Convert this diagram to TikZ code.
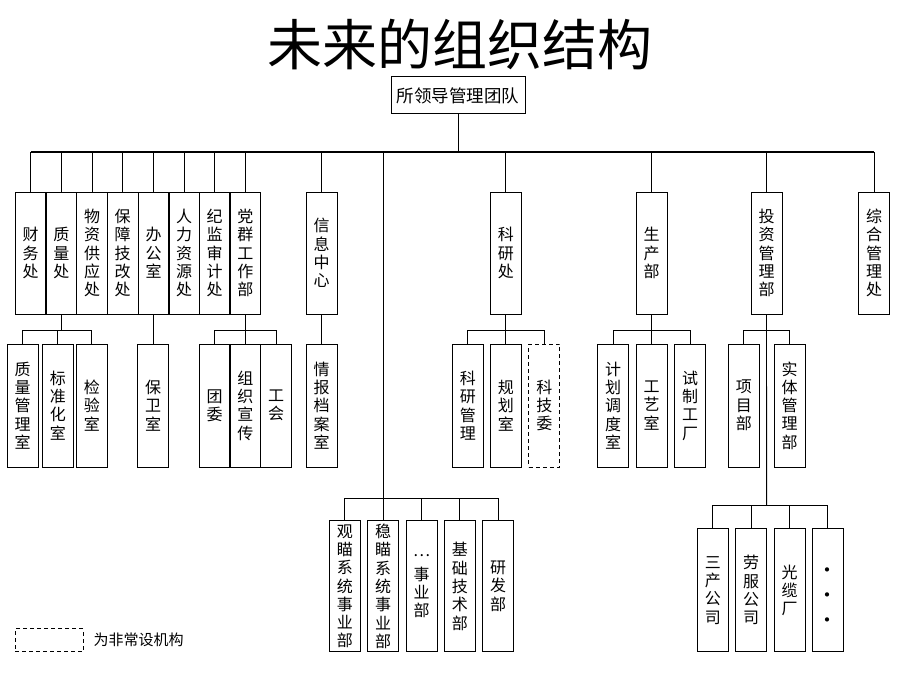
\documentclass[tikz,border=0pt]{standalone}
\usepackage{fontspec}
\setmainfont{Noto Sans CJK SC}
\begin{document}
\begin{tikzpicture}[x=1pt,y=-1pt,
  box/.style={draw, line width=1pt, minimum width=31pt, inner sep=0pt, align=center,
              font=\fontsize{16}{18.3}\selectfont},
  lvA/.style={box, minimum height=122pt},
  lvB/.style={box, minimum height=123pt},
  lvC/.style={box, minimum height=130.7pt},
  lvD/.style={box, minimum height=122.7pt},
  temp/.style={dash pattern=on 4pt off 3pt},
  conn/.style={line width=0.9pt},
  bus/.style={line width=1.4pt}]
\useasboundingbox (0,0) rectangle (920,690);
\fill[white] (0,0) rectangle (920,690);

% title and head
\node[font=\fontsize{55}{60}\selectfont] (title) at (460,45) {未来的组织结构};
\node[draw, line width=1pt, minimum width=134pt, minimum height=37pt, inner sep=0pt,
      font=\fontsize{17.5}{20}\selectfont] (lead) at (458,95.5) {所领导管理团队};

% level 1
\node[lvA] (caiwu)    at (30.7,253)  {财\\务\\处};
\node[lvA] (zhiliang) at (61.3,253)  {质\\量\\处};
\node[lvA] (wuzi)     at (92,253)    {物\\资\\供\\应\\处};
\node[lvA] (baozhang) at (122.7,253) {保\\障\\技\\改\\处};
\node[lvA] (bangong)  at (153.5,253) {办\\公\\室};
\node[lvA] (renli)    at (184.2,253) {人\\力\\资\\源\\处};
\node[lvA] (jijian)   at (214.7,253) {纪\\监\\审\\计\\处};
\node[lvA] (dangqun)  at (245.3,253) {党\\群\\工\\作\\部};
\node[lvA] (xinxi)    at (321.7,253) {信\\息\\中\\心};
\node[lvA] (keyan)    at (505.8,253) {科\\研\\处};
\node[lvA] (shengchan) at (651.5,253) {生\\产\\部};
\node[lvA] (touzi)    at (766.5,253) {投\\资\\管\\理\\部};
\node[lvA] (zonghe)   at (874,253)   {综\\合\\管\\理\\处};

% level 2
\node[lvB] (zlgls)   at (22.7,405.5)  {质\\量\\管\\理\\室};
\node[lvB] (bzhs)    at (57.8,405.5)  {标\\准\\化\\室};
\node[lvB] (jys)     at (91.8,405.5)  {检\\验\\室};
\node[lvB] (bws)     at (153,405.5)   {保\\卫\\室};
\node[lvB] (tuanwei) at (214.7,405.5) {团\\委};
\node[lvB] (zzxc)    at (245.3,405.5) {组\\织\\宣\\传};
\node[lvB] (gonghui) at (276.2,405.5) {工\\会};
\node[lvB] (qbda)    at (321.7,405.5) {情\\报\\档\\案\\室};
\node[lvB] (kygl)    at (467.8,405.5) {科\\研\\管\\理};
\node[lvB] (ghs)     at (505.8,405.5) {规\\划\\室};
\node[lvB, temp] (kjw) at (544.3,405.5) {科\\技\\委};
\node[lvB] (jhdd)    at (613.2,405.5) {计\\划\\调\\度\\室};
\node[lvB] (gys)     at (651.5,405.5) {工\\艺\\室};
\node[lvB] (szgc)    at (690.2,405.5) {试\\制\\工\\厂};
\node[lvB] (xmb)     at (743.8,405.5) {项\\目\\部};
\node[lvB] (stgl)    at (789.6,405.5) {实\\体\\管\\理\\部};

% level 3 middle
\node[lvC] (gm) at (344.8,586.3) {观\\瞄\\系\\统\\事\\业\\部};
\node[lvC] (wm) at (383.2,586.3) {稳\\瞄\\系\\统\\事\\业\\部};
\node[lvC] (sy) at (421.5,586.3) {\raisebox{5pt}{…}\\事\\业\\部};
\node[lvC] (jc) at (459.8,586.3) {基\\础\\技\\术\\部};
\node[lvC] (yf) at (498.2,586.3) {研\\发\\部};

% level 3 right
\node[lvD] (sc) at (712.8,590.3) {三\\产\\公\\司};
\node[lvD] (lf) at (751.2,590.3) {劳\\服\\公\\司};
\node[lvD] (gl) at (789.5,590.3) {光\\缆\\厂};
\node[lvD] (dd) at (827.8,590.3) {};
\node[inner sep=0pt, align=center, font=\fontsize{20}{18.3}\selectfont] (ddt) at (827.8,597.5) {•\\[6.7pt]•\\[6.7pt]•};

% legend
\node[draw, line width=1pt, temp, minimum width=68pt, minimum height=22.7pt, inner sep=0pt] (leg) at (49.3,640.3) {};
\node[anchor=west, inner sep=0pt, font=\fontsize{15}{18}\selectfont] (legt) at (93.5,640.3) {为非常设机构};

% connectors
\coordinate (busL) at (30.7,152);
\coordinate (busR) at (874,152);
\draw[conn] (lead.south) -- (lead.south |- busL);
\draw[bus] (busL) -- (busR);
\foreach \n in {caiwu,zhiliang,wuzi,baozhang,bangong,renli,jijian,dangqun,xinxi,keyan,shengchan,touzi,zonghe}
  \draw[conn] (\n.north) -- (\n.north |- busL);

% central trunk
\coordinate (midTop) at (383.3,152);
\coordinate (midBot) at (383.3,498);
\coordinate (mbL) at (344.8,498);
\coordinate (mbR) at (498.2,498);
\draw[conn] (midTop) -- (midBot);
\draw[conn] (mbL) -- (mbR);
\foreach \n in {gm,wm,sy,jc,yf}
  \draw[conn] (\n.north) -- (\n.north |- mbL);

% quality
\coordinate (zlL) at (22.7,330);
\coordinate (zlR) at (91.8,330);
\draw[conn] (zhiliang.south) -- (zhiliang.south |- zlL);
\draw[conn] (zlL) -- (zlR);
\foreach \n in {zlgls,bzhs,jys}
  \draw[conn] (\n.north) -- (\n.north |- zlL);

% office
\draw[conn] (bangong.south) -- (bangong.south |- bws.north);

% party
\coordinate (dqL) at (214.7,330);
\coordinate (dqR) at (276.2,330);
\draw[conn] (dangqun.south) -- (dangqun.south |- zzxc.north);
\draw[conn] (dqL) -- (dqR);
\foreach \n in {tuanwei,gonghui}
  \draw[conn] (\n.north) -- (\n.north |- dqL);

% info
\draw[conn] (xinxi.south) -- (qbda.north);

% research
\coordinate (kyL) at (467.8,330);
\coordinate (kyR) at (544.3,330);
\draw[conn] (keyan.south) -- (keyan.south |- ghs.north);
\draw[conn] (kyL) -- (kyR);
\foreach \n in {kygl,kjw}
  \draw[conn] (\n.north) -- (\n.north |- kyL);

% production
\coordinate (scL) at (613.2,330);
\coordinate (scR) at (690.2,330);
\draw[conn] (shengchan.south) -- (shengchan.south |- gys.north);
\draw[conn] (scL) -- (scR);
\foreach \n in {jhdd,szgc}
  \draw[conn] (\n.north) -- (\n.north |- scL);

% investment
\coordinate (tzL) at (743.8,330);
\coordinate (tzR) at (789.6,330);
\coordinate (tzBot) at (766.6,505);
\coordinate (rbL) at (712.8,505);
\coordinate (rbR) at (827.8,505);
\draw[conn] (touzi.south) -- (tzBot);
\draw[conn] (tzL) -- (tzR);
\foreach \n in {xmb,stgl}
  \draw[conn] (\n.north) -- (\n.north |- tzL);
\draw[conn] (rbL) -- (rbR);
\foreach \n in {sc,lf,gl,dd}
  \draw[conn] (\n.north) -- (\n.north |- rbL);
\end{tikzpicture}
\end{document}
